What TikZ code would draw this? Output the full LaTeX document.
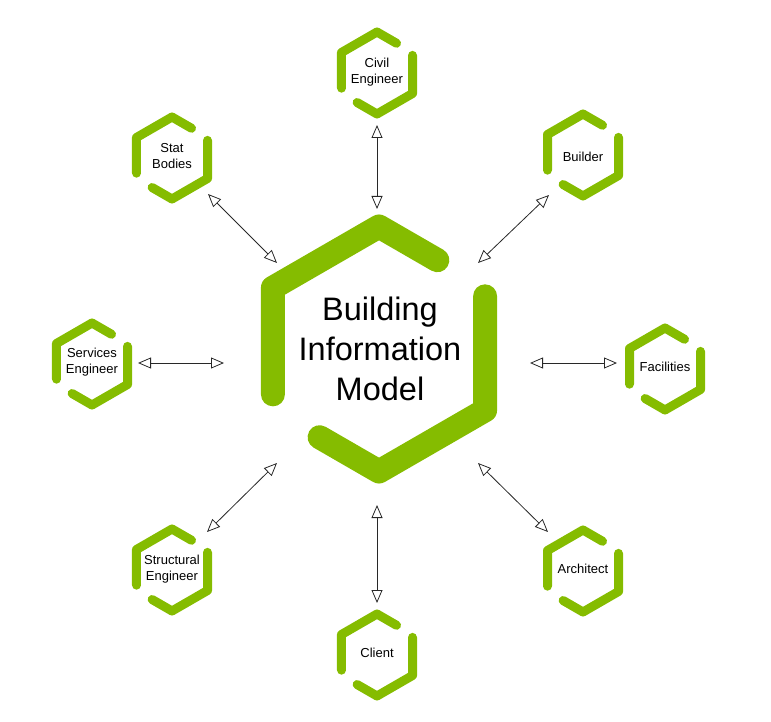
\documentclass[tikz,border=0pt]{standalone}
\usepackage{fontspec}
\setmainfont{Liberation Sans}
\usetikzlibrary{arrows.meta,calc}
\definecolor{bimgreen}{RGB}{133,188,0}
\definecolor{arrowgray}{RGB}{40,40,40}
\tikzset{
  hexline/.style={draw=bimgreen, line cap=round, line join=round},
  smalllabel/.style={align=center, font=\fontsize{13}{16}\selectfont, text=black},
  biglabel/.style={align=center, font=\fontsize{32.5}{40}\selectfont, text=black},
  link/.style={draw=arrowgray, line width=0.8pt, {Triangle[open,length=13pt,width=11pt]}-{Triangle[open,length=13pt,width=11pt]}}
}
\newcommand\hexring[5]{% name, x, y, R, width
  \coordinate (#1-T) at (#2,{#3-#4});
  \coordinate (#1-UR) at ({#2+0.866*#4},{#3-0.5*#4});
  \coordinate (#1-LR) at ({#2+0.866*#4},{#3+0.5*#4});
  \coordinate (#1-B) at (#2,{#3+#4});
  \coordinate (#1-LL) at ({#2-0.866*#4},{#3+0.5*#4});
  \coordinate (#1-UL) at ({#2-0.866*#4},{#3-0.5*#4});
  \draw[hexline, line width=#5pt] ($(#1-T)!0.55!(#1-UR)$) -- (#1-T) -- (#1-UL) -- ($(#1-UL)!0.87!(#1-LL)$);
  \draw[hexline, line width=#5pt] ($(#1-UR)!0.07!(#1-LR)$) -- (#1-LR) -- (#1-B) -- ($(#1-B)!0.56!(#1-LL)$);
}
\begin{document}
\begin{tikzpicture}[x=1pt,y=-1pt]
\useasboundingbox (0,0) rectangle (771,722);
% central hexagon
\hexring{bim}{379}{349}{122.5}{24}
\node[biglabel] (bim) at (380,349) {Building\\Information\\Model};
% small hexagons
\hexring{civ}{377}{73}{41}{9}
\node[smalllabel] (civil) at (377,72) {Civil\\Engineer};
\hexring{sta}{172}{158}{41}{9}
\node[smalllabel] (stat) at (172,156) {Stat\\Bodies};
\hexring{bui}{583}{155}{41}{9}
\node[smalllabel] (builder) at (583,157) {Builder};
\hexring{ser}{92}{364}{41}{9}
\node[smalllabel] (services) at (92,362) {Services\\Engineer};
\hexring{fac}{665}{369}{41}{9}
\node[smalllabel] (facilities) at (665,367) {Facilities};
\hexring{arc}{583}{571}{41}{9}
\node[smalllabel] (architect) at (583,569) {Architect};
\hexring{str}{172}{570}{41}{9}
\node[smalllabel] (structural) at (172,569) {Structural\\Engineer};
\hexring{cli}{377}{655}{41}{9}
\node[smalllabel] (client) at (377,653) {Client};
% connector end points
\coordinate (civA) at (377,125);  \coordinate (civB) at (377,209);
\coordinate (staA) at (208,194);  \coordinate (staB) at (277,263);
\coordinate (buiA) at (549,195);  \coordinate (buiB) at (478,263);
\coordinate (serA) at (138,363);  \coordinate (serB) at (224,363);
\coordinate (facA) at (617,363);  \coordinate (facB) at (530,363);
\coordinate (strA) at (207,532);  \coordinate (strB) at (277,463);
\coordinate (arcA) at (548,532);  \coordinate (arcB) at (478,463);
\coordinate (cliA) at (377,603);  \coordinate (cliB) at (377,505);
\draw[link] (civA) -- (civB);
\draw[link] (staA) -- (staB);
\draw[link] (buiA) -- (buiB);
\draw[link] (serA) -- (serB);
\draw[link] (facA) -- (facB);
\draw[link] (strA) -- (strB);
\draw[link] (arcA) -- (arcB);
\draw[link] (cliA) -- (cliB);
\end{tikzpicture}
\end{document}
